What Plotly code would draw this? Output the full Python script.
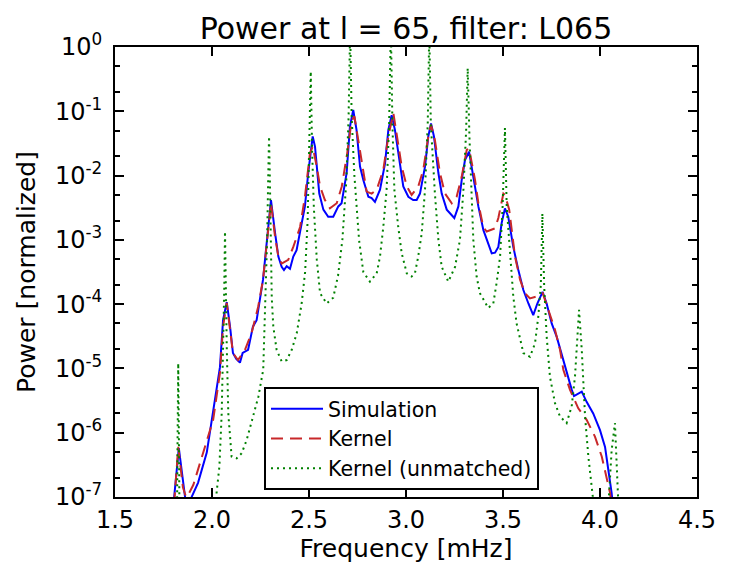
import numpy as np
import plotly.graph_objects as go

# ---- Data (log10 of normalized power) ----
sim_freq = [1.790, 1.805, 1.829, 1.845, 1.860, 1.878, 1.895, 1.928, 1.973, 2.005, 2.041, 2.057,
            2.076, 2.093, 2.108, 2.125, 2.144, 2.158, 2.186, 2.211, 2.230, 2.263, 2.289, 2.304,
            2.325, 2.342, 2.359, 2.371, 2.385, 2.402, 2.419, 2.436, 2.453, 2.479, 2.496, 2.519,
            2.531, 2.553, 2.574, 2.599, 2.625, 2.651, 2.668, 2.694, 2.711, 2.728, 2.745, 2.763,
            2.780, 2.806, 2.823, 2.840, 2.866, 2.892, 2.909, 2.926, 2.943, 2.969, 2.986, 3.012,
            3.037, 3.055, 3.072, 3.098, 3.115, 3.129, 3.144, 3.167, 3.184, 3.210, 3.227, 3.249,
            3.270, 3.287, 3.304, 3.325, 3.347, 3.373, 3.399, 3.425, 3.442, 3.459, 3.476, 3.493,
            3.510, 3.527, 3.553, 3.579, 3.605, 3.631, 3.656, 3.677, 3.704, 3.725, 3.751, 3.777,
            3.794, 3.828, 3.854, 3.866, 3.888, 3.906, 3.931, 3.965, 4.000, 4.026, 4.043, 4.060,
            4.075, 4.100]
sim_log = [-8.0, -7.0, -6.24, -6.6, -7.0, -7.4, -7.0, -6.78, -6.31, -5.69, -4.98, -4.25,
           -3.97, -4.35, -4.76, -4.85, -4.91, -4.76, -4.71, -4.35, -4.25, -3.62, -2.85, -2.38,
           -2.89, -3.26, -3.42, -3.47, -3.41, -3.45, -3.26, -3.16, -2.89, -2.48, -1.96, -1.39,
           -1.55, -2.28, -2.53, -2.64, -2.64, -2.48, -2.43, -1.96, -1.24, -0.98, -1.29, -1.86,
           -2.07, -2.33, -2.35, -2.41, -2.22, -1.81, -1.29, -1.06, -1.29, -1.86, -2.17, -2.33,
           -2.38, -2.38, -2.28, -1.86, -1.39, -1.19, -1.39, -1.96, -2.28, -2.53, -2.59, -2.66,
           -2.48, -2.07, -1.76, -1.63, -2.02, -2.48, -2.85, -3.05, -3.21, -3.20, -3.11, -2.74,
           -2.51, -2.64, -3.11, -3.47, -3.78, -3.99, -4.17, -3.99, -3.81, -3.99, -4.30, -4.51,
           -4.69, -5.08, -5.33, -5.43, -5.39, -5.36, -5.52, -5.70, -5.96, -6.22, -6.58, -6.94,
           -7.4, -8.0]

ker_freq = [1.790, 1.805, 1.826, 1.850, 1.866, 1.880, 1.904, 1.955, 2.006, 2.041, 2.057, 2.076,
            2.093, 2.108, 2.134, 2.170, 2.204, 2.238, 2.263, 2.284, 2.304, 2.325, 2.342, 2.359,
            2.393, 2.419, 2.454, 2.479, 2.505, 2.519, 2.540, 2.557, 2.582, 2.608, 2.643, 2.669,
            2.697, 2.720, 2.734, 2.754, 2.780, 2.797, 2.823, 2.849, 2.883, 2.909, 2.935, 2.952,
            2.978, 3.004, 3.029, 3.063, 3.089, 3.115, 3.129, 3.149, 3.175, 3.201, 3.236, 3.261,
            3.287, 3.313, 3.325, 3.356, 3.373, 3.398, 3.416, 3.459, 3.476, 3.502, 3.510, 3.532,
            3.562, 3.588, 3.613, 3.639, 3.674, 3.705, 3.734, 3.768, 3.794, 3.811, 3.845, 3.888,
            3.931, 3.974, 4.009, 4.034, 4.052, 4.070, 4.100]
ker_log = [-8.0, -7.1, -6.22, -6.85, -7.0, -6.95, -6.81, -6.31, -5.80, -5.07, -4.35, -3.98,
           -4.40, -4.76, -4.87, -4.71, -4.45, -4.04, -3.62, -3.05, -2.43, -2.95, -3.26, -3.37,
           -3.31, -3.11, -2.80, -2.33, -1.65, -1.55, -1.86, -2.17, -2.38, -2.51, -2.43, -2.17,
           -1.65, -1.14, -1.08, -1.45, -1.96, -2.25, -2.28, -2.22, -1.91, -1.39, -1.03, -1.39,
           -1.86, -2.17, -2.30, -2.17, -1.91, -1.39, -1.21, -1.45, -1.96, -2.28, -2.43, -2.33,
           -2.02, -1.60, -1.58, -2.07, -2.43, -2.80, -2.87, -2.82, -2.66, -2.28, -2.30, -2.53,
           -3.26, -3.62, -3.83, -3.91, -3.88, -3.83, -4.09, -4.40, -4.71, -5.02, -5.33, -5.62,
           -5.80, -6.06, -6.37, -6.73, -6.94, -7.4, -8.0]

unm_freq = [1.780, 1.818, 1.822, 1.826, 1.830, 1.834, 1.950, 2.010, 2.024, 2.038, 2.050, 2.058,
            2.063, 2.067, 2.071, 2.076, 2.084, 2.101, 2.127, 2.153, 2.179, 2.213, 2.239, 2.264,
            2.278, 2.284, 2.290, 2.294, 2.298, 2.304, 2.308, 2.316, 2.333, 2.359, 2.385, 2.411,
            2.437, 2.462, 2.480, 2.493, 2.502, 2.509, 2.516, 2.525, 2.540, 2.557, 2.591, 2.625,
            2.650, 2.672, 2.692, 2.704, 2.712, 2.720, 2.734, 2.758, 2.780, 2.814, 2.849, 2.866,
            2.883, 2.900, 2.913, 2.922, 2.930, 2.940, 2.960, 2.978, 3.004, 3.029, 3.046, 3.063,
            3.081, 3.098, 3.112, 3.120, 3.128, 3.149, 3.167, 3.184, 3.218, 3.253, 3.278, 3.296,
            3.310, 3.318, 3.327, 3.338, 3.347, 3.364, 3.381, 3.424, 3.450, 3.467, 3.485, 3.498,
            3.510, 3.519, 3.536, 3.553, 3.570, 3.605, 3.639, 3.665, 3.682, 3.695, 3.703, 3.712,
            3.725, 3.742, 3.768, 3.794, 3.828, 3.854, 3.871, 3.883, 3.892, 3.906, 3.923, 3.940,
            3.957, 3.985, 4.040, 4.060, 4.077, 4.085, 4.100, 4.150]
unm_log = [-8.5, -8.0, -6.3, -4.92, -6.3, -8.0, -9.0, -7.6, -6.92, -6.53, -5.70, -4.66,
           -3.8, -2.87, -3.8, -4.66, -5.70, -6.37, -6.40, -6.32, -6.11, -5.75, -5.44, -5.02,
           -3.83, -3.0, -2.0, -1.39, -2.0, -3.26, -3.9, -4.35, -4.71, -4.89, -4.87, -4.71,
           -4.45, -3.99, -3.50, -2.7, -1.6, -0.38, -1.6, -2.5, -3.3, -3.83, -3.99, -3.90,
           -3.55, -3.0, -2.1, -1.1, 0.3, -1.1, -2.0, -3.0, -3.5, -3.65, -3.52, -3.26,
           -2.80, -2.22, -1.2, 0.3, -1.2, -2.22, -2.80, -3.21, -3.52, -3.57, -3.52, -3.26,
           -2.90, -2.22, -1.2, 0.25, -1.2, -2.28, -3.0, -3.42, -3.65, -3.42, -3.0, -2.22,
           -1.3, -0.33, -1.4, -2.48, -3.0, -3.57, -3.83, -4.06, -3.99, -3.67, -3.26, -2.48,
           -1.26, -2.48, -3.26, -3.88, -4.30, -4.76, -4.82, -4.61, -4.19, -3.7, -2.59, -3.7,
           -4.5, -5.13, -5.54, -5.75, -5.85, -5.59, -5.13, -4.61, -4.09, -4.71, -5.75, -6.37,
           -6.79, -7.6, -7.3, -6.27, -5.85, -6.48, -7.5, -8.5]

x_ticks = [1.5, 2.0, 2.5, 3.0, 3.5, 4.0, 4.5]
y_exps = [0, -1, -2, -3, -4, -5, -6, -7]

FONT = "DejaVu Sans"

fig = go.Figure()
fig.add_trace(go.Scatter(x=sim_freq, y=10.0 ** np.array(sim_log), mode="lines", name="Simulation",
                         legendgroup="a", line=dict(color="#0000ff", width=2)))
fig.add_trace(go.Scatter(x=ker_freq, y=10.0 ** np.array(ker_log), mode="lines", name="Kernel",
                         legendgroup="b", line=dict(color="#c8282a", width=2, dash="12px,7px")))
fig.add_trace(go.Scatter(x=unm_freq, y=10.0 ** np.array(unm_log), mode="lines", name="Kernel (unmatched)",
                         legendgroup="c", line=dict(color="#008000", width=2, dash="2px,4px")))

fig.update_layout(
    width=729, height=580,
    margin=dict(l=115, r=32, t=47, b=83),
    paper_bgcolor="white", plot_bgcolor="white",
    font=dict(family=FONT, color="black", size=24),
    title=dict(text="Power at l = 65, filter: L065", x=0.5, xref="paper", xanchor="center",
               y=1 - 28 / 580, yref="container", yanchor="middle", font=dict(size=30, family=FONT)),
    showlegend=True,
    legend=dict(x=(264 - 115) / 582, y=1 - (387 - 47) / 450, xanchor="left", yanchor="top",
                bgcolor="white", bordercolor="black", borderwidth=2, itemwidth=52,
                font=dict(size=20.5, family=FONT), tracegroupgap=0),
)
fig.update_xaxes(range=[1.5, 4.5], tickvals=x_ticks, ticktext=[f"{v:.1f}" for v in x_ticks],
                 ticks="inside", ticklen=9, tickwidth=1.5, tickcolor="black",
                 showline=True, linecolor="black", linewidth=2, mirror="allticks",
                 showgrid=False, zeroline=False,
                 title=dict(text="Frequency [mHz]", standoff=6, font=dict(size=25, family=FONT)),
                 tickfont=dict(size=24))
fig.update_yaxes(type="log", range=[-7, 0], tickvals=[10.0 ** e for e in y_exps],
                 ticktext=[f"10<sup>{e}</sup>" for e in y_exps],
                 ticks="inside", ticklen=9, tickwidth=1.5, tickcolor="black",
                 minor=dict(ticks="inside", ticklen=5, tickcolor="black", showgrid=False),
                 showline=True, linecolor="black", linewidth=2, mirror="allticks",
                 showgrid=False, zeroline=False,
                 title=dict(text="Power [normalized]", standoff=12, font=dict(size=25, family=FONT)),
                 tickfont=dict(size=24), ticklabelstandoff=6)

fig.write_html("out.html")
